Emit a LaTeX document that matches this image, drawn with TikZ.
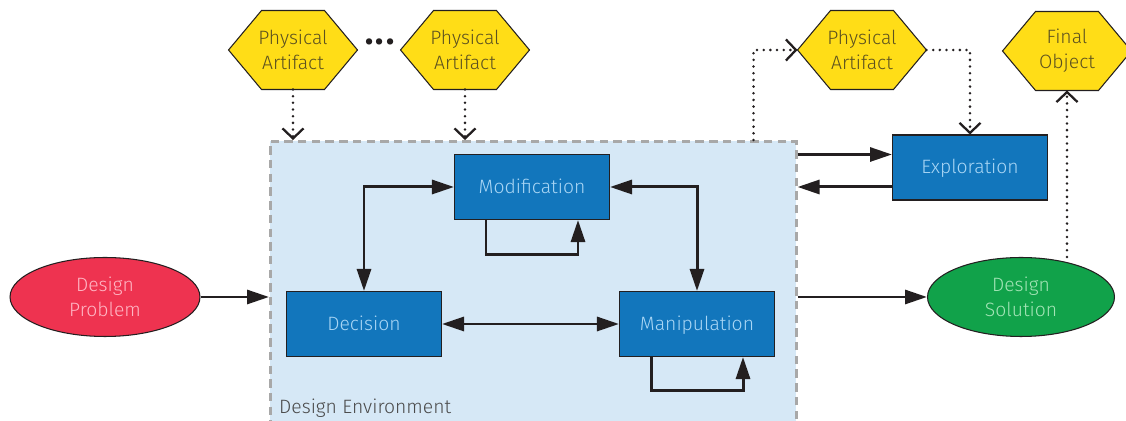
\documentclass[tikz,border=0pt]{standalone}
\usepackage{fontspec}
\setmainfont{Fira Sans Light}
\usetikzlibrary{arrows.meta,shapes.geometric,calc}
\definecolor{boxblue}{HTML}{1276BC}
\definecolor{boxtext}{HTML}{A9D6F5}
\definecolor{hexyellow}{HTML}{FFDD17}
\definecolor{hextext}{HTML}{5C5120}
\definecolor{probred}{HTML}{EE3350}
\definecolor{probtext}{HTML}{FFB6C4}
\definecolor{solgreen}{HTML}{11A24A}
\definecolor{soltext}{HTML}{A3E4B6}
\definecolor{envfill}{HTML}{D6E8F6}
\definecolor{envline}{HTML}{A8A8A8}
\definecolor{envtext}{HTML}{4A4A4A}
\definecolor{edge}{HTML}{231F20}
\pgfdeclarelayer{bg}
\pgfsetlayers{bg,main}
\newcommand\hexat[1]{\filldraw[hexshape] (#1.west) -- ([xshift=0.66cm]#1.north west) -- ([xshift=-0.66cm]#1.north east) -- (#1.east) -- ([xshift=-0.66cm]#1.south east) -- ([xshift=0.66cm]#1.south west) -- cycle;}
\tikzset{
  txt/.style={font=\fontsize{11}{14.2}\selectfont, align=center},
  procbox/.style={txt, draw=edge, line width=0.6pt, fill=boxblue, text=boxtext, minimum width=3.1cm, minimum height=1.3cm, inner sep=0pt, text height=7.3pt, text depth=0pt},
  hexnode/.style={txt, minimum width=2.58cm, minimum height=1.58cm, inner sep=0pt, outer sep=0pt, text=hextext},
  hexshape/.style={draw=edge, line width=0.6pt, fill=hexyellow},
  ovalnode/.style={txt, ellipse, draw=edge, line width=0.6pt, minimum height=1.58cm, inner sep=0pt},
  envbox/.style={draw=envline, fill=envfill, line width=1.5pt, dash pattern=on 4.8pt off 3pt, inner sep=0pt},
  flow/.style={draw=edge, line width=1.7pt, -{Triangle[length=0.44cm,width=0.28cm]}},
  biflow/.style={draw=edge, line width=1.7pt, {Triangle[length=0.44cm,width=0.28cm]}-{Triangle[length=0.44cm,width=0.28cm]}},
  dots/.style={draw=edge, line width=1.6pt, line cap=round, dash pattern=on 0pt off 3.8pt, -{Straight Barb[length=0.2cm,width=0.42cm,line width=1.3pt]}},
}
\begin{document}
\begin{tikzpicture}[x=0.02cm,y=-0.02cm]
\useasboundingbox (0,0) rectangle (1126,421);
\node[envbox, minimum width=10.52cm, minimum height=6cm, anchor=north west] (env) at (269,140) {};
\node[txt, anchor=west, text=envtext] (envlab) at (273,408) {Design Environment};

\node[procbox] (mod) at (532,187) {Modification};
\node[procbox] (dec) at (364,324) {Decision};
\node[procbox] (man) at (697,324) {Manipulation};
\node[procbox] (exp) at (970,167.5) {Exploration};

\node[ovalnode, fill=probred, text=probtext, minimum width=3.8cm] (prob) at (105,297) {Design\\Problem};
\node[ovalnode, fill=solgreen, text=soltext, minimum width=3.74cm] (sol) at (1021,297) {Design\\Solution};

\node[hexnode] (pa1) at (293,50) {Physical\\Artifact};
\node[hexnode] (pa2) at (465,50) {Physical\\Artifact};
\node[hexnode] (pa3) at (862,50) {Physical\\Artifact};
\node[hexnode] (fin) at (1067,51) {Final\\Object};
\node[font=\fontsize{24}{24}\selectfont, text=edge, inner sep=0pt] (ell) at (380,48) {\textbullet\kern-1pt\textbullet\kern-1pt\textbullet};

\begin{pgfonlayer}{bg}
\hexat{pa1}
\hexat{pa2}
\hexat{pa3}
\hexat{fin}
\end{pgfonlayer}

\draw[flow] (prob.east) -- (prob.east -| env.west);
\draw[flow] (sol.west -| env.east) -- (sol.west);
\coordinate (e1) at ($(exp.west)+(0,-13)$);
\coordinate (e2) at ($(exp.west)+(0,19.5)$);
\draw[flow] (e1 -| env.east) -- (e1);
\draw[flow] (e2) -- (e2 -| env.east);

\draw[biflow] (mod.west) -| (dec.north);
\draw[biflow] (mod.east) -| (man.north);
\draw[biflow] (dec.east) -- (man.west);
\draw[flow] ($(mod.south)+(-46,0)$) -- ++(0,34) -| ($(mod.south)+(46,0)$);
\draw[flow] ($(man.south)+(-46,0)$) -- ++(0,33) -| ($(man.south)+(46,0)$);

\draw[dots] (pa1.south) -- (pa1.south |- env.north);
\draw[dots] (pa2.south) -- (pa2.south |- env.north);
\coordinate (d1) at ($(env.north east)+(-44,0)$);
\draw[dots] (d1) |- (pa3.west);
\draw[dots] (pa3.east) -| (exp.north);
\draw[dots] (fin.south |- sol.north) -- (fin.south);
\end{tikzpicture}
\end{document}
